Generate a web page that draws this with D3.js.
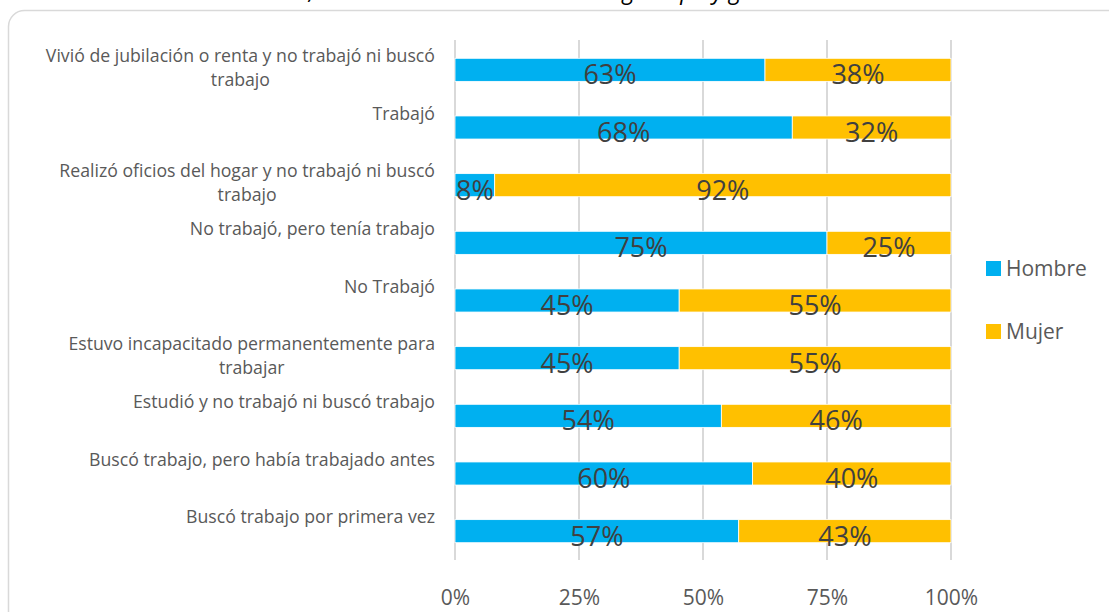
<!DOCTYPE html>
<html>
<head>
<meta charset="utf-8">
<script src="https://cdn.jsdelivr.net/npm/d3@7"></script>
<style>
  html, body { margin: 0; padding: 0; background: #fff; }
  svg { display: block; font-family: "Open Sans", "Noto Sans", sans-serif; }
</style>
</head>
<body>
<div id="chart"></div>
<script>
// categorias (de arriba hacia abajo)
var categories = [
  "Vivió de jubilación o renta y no trabajó ni buscó|trabajo",
  "Trabajó",
  "Realizó oficios del hogar y no trabajó ni buscó|trabajo",
  "No trabajó, pero tenía trabajo",
  "No Trabajó",
  "Estuvo incapacitado permanentemente para|trabajar",
  "Estudió y no trabajó ni buscó trabajo",
  "Buscó trabajo, pero había trabajado antes",
  "Buscó trabajo por primera vez"
];
var hombre = [0.625, 0.68, 0.08, 0.75, 0.452, 0.452, 0.537, 0.60, 0.572];
var mujer  = [0.375, 0.32, 0.92, 0.25, 0.548, 0.548, 0.463, 0.40, 0.428];
var seriesNames = ["Hombre", "Mujer"];
var seriesColors = ["#00B0F0", "#FFC000"];
var xTicks = [0, 0.25, 0.5, 0.75, 1];
var title = "Actividad realizada durante la semana anterior, distribución de la actividad según tipo y género";

var W = 1109, H = 612;
var margin = { left: 455, right: 158, top: 40, bottom: 54 };

var svg = d3.select("#chart").append("svg")
  .attr("width", W)
  .attr("height", H);

// titulo (cortado arriba, solo asoman los trazos bajos)
svg.append("text")
  .attr("x", 314)
  .attr("y", -1)
  .attr("text-anchor", "middle")
  .attr("font-style", "italic")
  .attr("font-size", "23px")
  .attr("fill", "#000")
  .text(title);

// marco
svg.append("rect")
  .attr("x", 8.5).attr("y", 10.5)
  .attr("width", 1120).attr("height", 620)
  .attr("rx", 16).attr("ry", 16)
  .attr("fill", "none")
  .attr("stroke", "#d9d9d9")
  .attr("stroke-width", 1.5);

var x = d3.scaleLinear().domain([0, 1]).range([margin.left, W - margin.right]);
var y = d3.scaleBand().domain(categories)
  .range([margin.top + 1, H - margin.bottom + 2])
  .paddingInner(0.6).paddingOuter(0.3);

// lineas de la cuadricula
svg.append("g").selectAll("line")
  .data(xTicks).enter().append("line")
  .attr("x1", function (d) { return x(d); })
  .attr("x2", function (d) { return x(d); })
  .attr("y1", margin.top)
  .attr("y2", H - margin.bottom + 2)
  .attr("stroke", "#d9d9d9")
  .attr("stroke-width", 2);

// etiquetas del eje x
var xAxis = svg.append("g")
  .attr("transform", "translate(0," + (H - margin.bottom + 2) + ")")
  .call(d3.axisBottom(x).tickValues(xTicks).tickFormat(d3.format(".0%")).tickSize(0).tickPadding(30));
xAxis.select(".domain").remove();
xAxis.selectAll("text")
  .attr("font-family", "'Open Sans', sans-serif")
  .attr("font-size", "21px")
  .attr("fill", "#595959");

// apilar
var rows = categories.map(function (c, i) {
  return { cat: c, Hombre: hombre[i], Mujer: mujer[i] };
});
var stack = d3.stack().keys(seriesNames)(rows);

var fmt = d3.format(".0%");
stack.forEach(function (layer, li) {
  var g = svg.append("g");
  g.selectAll("rect")
    .data(layer).enter().append("rect")
    .attr("x", function (d) { return x(d[0]); })
    .attr("y", function (d) { return y(d.data.cat); })
    .attr("width", function (d) { return x(d[1]) - x(d[0]); })
    .attr("height", y.bandwidth())
    .attr("fill", seriesColors[li])
    .attr("stroke", "#fff")
    .attr("stroke-width", 0.8);
  g.selectAll("text")
    .data(layer).enter().append("text")
    .attr("x", function (d) { return (x(d[0]) + x(d[1])) / 2; })
    .attr("y", function (d) { return y(d.data.cat) + y.bandwidth() + 3; })
    .attr("text-anchor", "middle")
    .attr("font-size", "27px")
    .attr("fill", "#404040")
    .text(function (d) { return fmt(d[1] - d[0]); });
});

// etiquetas de categorias
var catG = svg.append("g");
categories.forEach(function (c) {
  var lines = c.split("|");
  var cy = y(c) + y.bandwidth() / 2;
  var t = catG.append("text")
    .attr("text-anchor", "middle")
    .attr("font-size", "17.7px")
    .attr("fill", "#595959");
  lines.forEach(function (ln, k) {
    t.append("tspan")
      .attr("x", 0)
      .attr("y", cy - 8 + k * 24)
      .text(ln);
  });
  // alinear a la derecha la primera linea, centrar el resto bajo ella
  var w0 = t.select("tspan").node().getComputedTextLength();
  var cx = margin.left - 20 - w0 / 2;
  t.selectAll("tspan").attr("x", cx);
});

// leyenda
var legend = svg.append("g");
seriesNames.forEach(function (s, i) {
  var ly = 268 + i * 63;
  legend.append("rect")
    .attr("x", 986).attr("y", ly - 7)
    .attr("width", 15).attr("height", 15)
    .attr("fill", seriesColors[i]);
  legend.append("text")
    .attr("x", 1006).attr("y", ly + 8)
    .attr("font-size", "21px")
    .attr("fill", "#595959")
    .text(s);
});
</script>
</body>
</html>
